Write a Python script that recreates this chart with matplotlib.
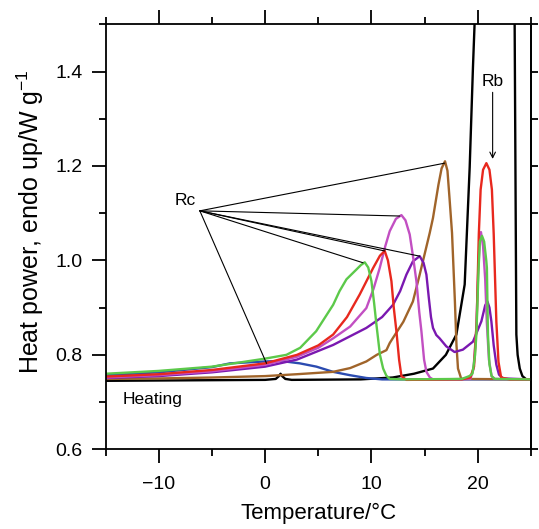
import numpy as np
import matplotlib
matplotlib.use('Agg')
import matplotlib.pyplot as plt
from matplotlib.ticker import MultipleLocator

plt.rcParams['font.family'] = ['Liberation Sans', 'DejaVu Sans']

# curves (temperature in C, heat power in W/g)
black_x = [-15, 0, 1.0, 1.3, 1.45, 1.6, 1.9, 2.5, 9, 12, 14, 15.79, 17.0, 17.99, 18.77,
           19.24, 19.55, 19.7, 19.9, 23.3, 23.47, 23.63, 23.75, 23.95, 24.2, 24.57, 25]
black_y = [0.745, 0.747, 0.749, 0.755, 0.760, 0.755, 0.749, 0.747, 0.748, 0.752, 0.760, 0.771,
           0.800, 0.843, 0.949, 1.197, 1.41, 1.5, 1.7, 1.7, 1.5, 0.843, 0.800, 0.771, 0.755,
           0.748, 0.748]

blue_x = [-15, -10, -5, -3.3, 0, 1.5, 3.26, 4.83, 6.39, 7.96, 9.52, 11, 25]
blue_y = [0.757, 0.763, 0.774, 0.782, 0.786, 0.787, 0.782, 0.775, 0.764, 0.757, 0.751, 0.748, 0.748]

brown_x = [-15, -10, -5, 0, 3, 6.4, 8, 9.52, 10.5, 11.41, 11.72, 12.0, 13.0, 13.9, 14.54,
           15.48, 15.79, 16.3, 16.6, 16.92, 17.15, 17.35, 17.58, 17.85, 18.0, 18.14, 18.45, 25]
brown_y = [0.749, 0.750, 0.752, 0.755, 0.759, 0.764, 0.772, 0.786, 0.800, 0.810, 0.825,
           0.835, 0.870, 0.913, 0.970, 1.058, 1.090, 1.160, 1.195, 1.210, 1.190, 1.130,
           1.058, 0.913, 0.820, 0.771, 0.749, 0.748]

purple_x = [-15, -10, -5, 0, 3, 6.4, 9.52, 11, 12.03, 12.7, 13.29, 13.9, 14.54, 14.9, 15.17,
            15.4, 15.6, 15.79, 16.1, 16.41, 17.04, 17.82, 18.6, 19.55, 20.34, 20.7, 20.91,
            21.1, 21.28, 21.5, 21.75, 22.0, 22.38, 25]
purple_y = [0.751, 0.755, 0.763, 0.775, 0.790, 0.821, 0.857, 0.880, 0.906, 0.935, 0.970,
            0.998, 1.009, 0.995, 0.970, 0.920, 0.880, 0.857, 0.842, 0.835, 0.818, 0.806,
            0.811, 0.828, 0.871, 0.905, 0.913, 0.900, 0.871, 0.820, 0.779, 0.758, 0.750, 0.748]

magenta_x = [-15, -10, -5, 0, 3, 5, 6.4, 8, 9.52, 10.2, 10.78, 11.3, 11.72, 12.3, 12.82,
             13.2, 13.6, 13.9, 14.23, 14.5, 14.7, 14.95, 15.17, 15.5, 15.79, 19.3, 19.6,
             19.85, 20.05, 20.2, 20.3, 20.5, 20.7, 20.85, 21.05, 21.3, 21.6, 25]
magenta_y = [0.752, 0.757, 0.765, 0.779, 0.796, 0.815, 0.835, 0.860, 0.899, 0.940, 0.984,
             1.030, 1.062, 1.088, 1.096, 1.085, 1.055, 1.010, 0.956, 0.890, 0.850, 0.790,
             0.764, 0.752, 0.748, 0.749, 0.770, 0.850, 0.980, 1.050, 1.060, 1.030, 0.960,
             0.870, 0.790, 0.755, 0.749, 0.748]

red_x = [-15, -10, -5, 0, 3, 5, 6.4, 7.7, 8.9, 10.16, 10.8, 11.25, 11.55, 11.88, 12.1, 12.35,
         12.6, 12.82, 13.29, 18.5, 19.3, 19.65, 19.9, 20.1, 20.27, 20.5, 20.81, 21.1, 21.33,
         21.5, 21.75, 21.95, 22.2, 23, 25]
red_y = [0.754, 0.759, 0.768, 0.782, 0.800, 0.820, 0.843, 0.880, 0.928, 0.984, 1.010, 1.020,
         1.000, 0.956, 0.900, 0.850, 0.790, 0.755, 0.747, 0.748, 0.752, 0.775, 0.870, 1.056,
         1.150, 1.192, 1.206, 1.192, 1.150, 1.056, 0.870, 0.785, 0.752, 0.748, 0.748]

green_x = [-15, -10, -5, 0, 2, 3.3, 4.8, 5.8, 6.4, 7.0, 7.65, 8.6, 9.0, 9.37, 9.7, 10.0,
           10.25, 10.47, 10.8, 11.1, 11.4, 11.72, 13, 18.5, 19.2, 19.5, 19.75, 19.87, 20.08,
           20.2, 20.4, 20.6, 20.8, 20.86, 20.96, 21.1, 21.3, 21.6, 25]
green_y = [0.760, 0.766, 0.775, 0.792, 0.800, 0.815, 0.850, 0.885, 0.906, 0.935, 0.960,
           0.981, 0.990, 0.996, 0.985, 0.956, 0.910, 0.864, 0.800, 0.771, 0.756, 0.749,
           0.748, 0.749, 0.755, 0.760, 0.800, 0.843, 0.984, 1.040, 1.052, 1.040, 1.000,
           0.984, 0.843, 0.780, 0.755, 0.749, 0.748]

curves = [
    (black_x, black_y, 'black'),
    (blue_x, blue_y, '#2b4bb0'),
    (brown_x, brown_y, '#a0642a'),
    (purple_x, purple_y, '#7a18b0'),
    (magenta_x, magenta_y, '#c24fc2'),
    (red_x, red_y, '#e8281e'),
    (green_x, green_y, '#5cc94a'),
]

# annotation targets (Rc lines)
rc_origin = (-6.14, 1.105)
rc_targets = [(16.89, 1.206), (12.66, 1.094), (14.54, 1.009), (11.25, 1.02),
              (9.21, 0.995), (0.13, 0.782)]

fig = plt.figure(figsize=(5.39, 5.29), dpi=100)
ax = fig.add_axes([0.196, 0.1507, 0.789, 0.8033])

for x, y, c in curves:
    ax.plot(x, y, color=c, lw=1.7, solid_joinstyle='round')

ax.set_xlim(-15, 25)
ax.set_ylim(0.6, 1.5)

for tx, ty in rc_targets:
    ax.annotate('', xy=(tx, ty), xytext=rc_origin,
                arrowprops=dict(arrowstyle='-', lw=0.8, color='black', shrinkA=0, shrinkB=0))
ax.text(-7.5, 1.126, 'Rc', fontsize=12.5, ha='center', va='center')

ax.text(21.4, 1.378, 'Rb', fontsize=12.5, ha='center', va='center')
ax.annotate('', xy=(21.4, 1.215), xytext=(21.4, 1.356),
            arrowprops=dict(arrowstyle='->', lw=0.8, color='black', shrinkA=0, shrinkB=0))

ax.text(-13.4, 0.705, 'Heating', fontsize=12.5, ha='left', va='center')

ax.xaxis.set_major_locator(MultipleLocator(10))
ax.xaxis.set_minor_locator(MultipleLocator(5))
ax.yaxis.set_major_locator(MultipleLocator(0.2))
ax.yaxis.set_minor_locator(MultipleLocator(0.1))
ax.set_xticks([-10, 0, 10, 20])
ax.set_xticklabels(['\u221210', '0', '10', '20'])

ax.tick_params(which='both', direction='out', width=1.3, labelsize=14, top=True, right=False)
ax.tick_params(which='major', length=10)
ax.tick_params(which='minor', length=5)
ax.tick_params(axis='x', which='major', pad=9.5)
ax.tick_params(axis='y', which='major', pad=6.5)

sec = ax.secondary_yaxis('right')
sec.set_yticks(np.arange(0.6, 1.51, 0.1))
sec.tick_params(direction='out', length=5, width=1.3, labelright=False)
sec.spines['right'].set_linewidth(1.3)

for s in ax.spines.values():
    s.set_linewidth(1.3)

ax.set_xlabel('Temperature/\u00b0C', fontsize=16, labelpad=7)
ax.set_ylabel('Heat power, endo up/W g$\\mathregular{^{\u22121}}$', fontsize=18, labelpad=7)
ax.yaxis.label.set_y(0.537)

fig.savefig('out.png', dpi=100)
